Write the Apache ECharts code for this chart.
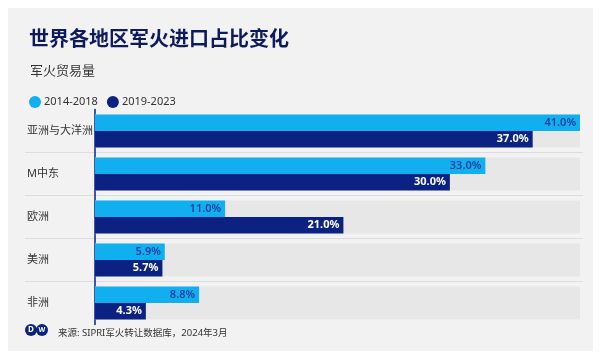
<!DOCTYPE html>
<html><head><meta charset="utf-8">
<script src="https://cdn.jsdelivr.net/npm/echarts@6/dist/echarts.min.js"></script>
<style>html,body{margin:0;padding:0;background:#fff}#c{width:600px;height:357px}</style>
</head><body><div id="c"></div>
<script>
const categories = ['亚洲与大洋洲', 'M中东', '欧洲', '美洲', '非洲'];
const seriesNames = ['2014-2018', '2019-2023'];
const values2014_2018 = [41.0, 33.0, 11.0, 5.9, 8.8];
const values2019_2023 = [37.0, 30.0, 21.0, 5.7, 4.3];
const axisMax = 41;

const FONT = '"Noto Sans", "Noto Sans CJK SC", sans-serif';
const LIGHT = '#12aff0';
const NAVY = '#0b2283';
const chart = echarts.init(document.getElementById('c'), null, {renderer: 'canvas'});
const gridTop = 109.5, gridBottom = 32.5;
chart.setOption({
  backgroundColor: '#ffffff',
  animation: false,
  textStyle: {fontFamily: FONT},
  graphic: [
    {type: 'rect', z: -10, shape: {x: 8, y: 8, width: 585, height: 343}, style: {fill: '#f3f2f2'}},
    {type: 'group', left: 25, top: 324, children: [
      {type: 'circle', shape: {cx: 6, cy: 6, r: 6}, style: {fill: NAVY}},
      {type: 'circle', shape: {cx: 17, cy: 6, r: 6}, style: {fill: NAVY}},
      {type: 'text', style: {x: 6, y: 6, text: 'D', fill: '#fff', font: 'bold 8px ' + FONT, align: 'center', verticalAlign: 'middle'}},
      {type: 'text', style: {x: 17, y: 6, text: 'W', fill: '#fff', font: 'bold 7px ' + FONT, align: 'center', verticalAlign: 'middle'}}
    ]}
  ],
  title: [
    {text: '世界各地区军火进口占比变化', left: 24, top: 25,
     textStyle: {fontSize: 20, fontWeight: 'bold', color: '#0d1b5e', fontFamily: FONT}},
    {text: '军火贸易量', left: 25, top: 60,
     textStyle: {fontSize: 13, fontWeight: 'normal', color: '#333', fontFamily: FONT}},
    {text: '来源: SIPRI军火转让数据库，2024年3月', left: 53, top: 324,
     textStyle: {fontSize: 9.5, fontWeight: 'normal', color: '#333', fontFamily: FONT}}
  ],
  legend: {
    left: 24, top: 91, icon: 'circle', itemWidth: 12, itemHeight: 12, itemGap: 9,
    data: seriesNames,
    textStyle: {fontSize: 11, color: '#333', fontFamily: FONT, padding: [0, 0, 0, -2]}
  },
  grid: [
    {left: 25, right: 17, top: gridTop, bottom: gridBottom},
    {left: 95, right: 20, top: gridTop, bottom: gridBottom}
  ],
  xAxis: [
    {gridIndex: 0, type: 'value', min: 0, max: 1, show: false},
    {gridIndex: 1, type: 'value', min: 0, max: axisMax, show: false}
  ],
  yAxis: [
    {gridIndex: 0, type: 'category', data: categories, inverse: true,
     axisLine: {show: false}, axisTick: {show: false},
     axisLabel: {inside: true, margin: 2, color: '#333', fontSize: 11, fontFamily: FONT},
     splitLine: {show: true, showMinLine: false, showMaxLine: false, lineStyle: {color: '#dedddd', width: 1}}},
    {gridIndex: 1, type: 'category', data: categories, inverse: true,
     axisLine: {show: true, lineStyle: {color: NAVY, width: 1.5}}, axisTick: {show: false},
     axisLabel: {show: false}, splitLine: {show: false}}
  ],
  series: [
    {name: seriesNames[0], type: 'bar', xAxisIndex: 1, yAxisIndex: 1, data: values2014_2018,
     barWidth: 16.5, barGap: '0%', itemStyle: {color: LIGHT},
     showBackground: true, backgroundStyle: {color: '#e8e7e7'},
     label: {show: true, position: 'insideRight', distance: 4, color: '#1c3f9e', fontSize: 11, fontWeight: 600,
             fontFamily: FONT, formatter: p => p.value.toFixed(1) + '%'}},
    {name: seriesNames[1], type: 'bar', xAxisIndex: 1, yAxisIndex: 1, data: values2019_2023,
     barWidth: 16.5, barGap: '0%', itemStyle: {color: NAVY},
     showBackground: true, backgroundStyle: {color: '#e8e7e7'},
     label: {show: true, position: 'insideRight', distance: 4, color: '#ffffff', fontSize: 11, fontWeight: 'bold',
             fontFamily: FONT, formatter: p => p.value.toFixed(1) + '%'}}
  ]
});
</script></body></html>
